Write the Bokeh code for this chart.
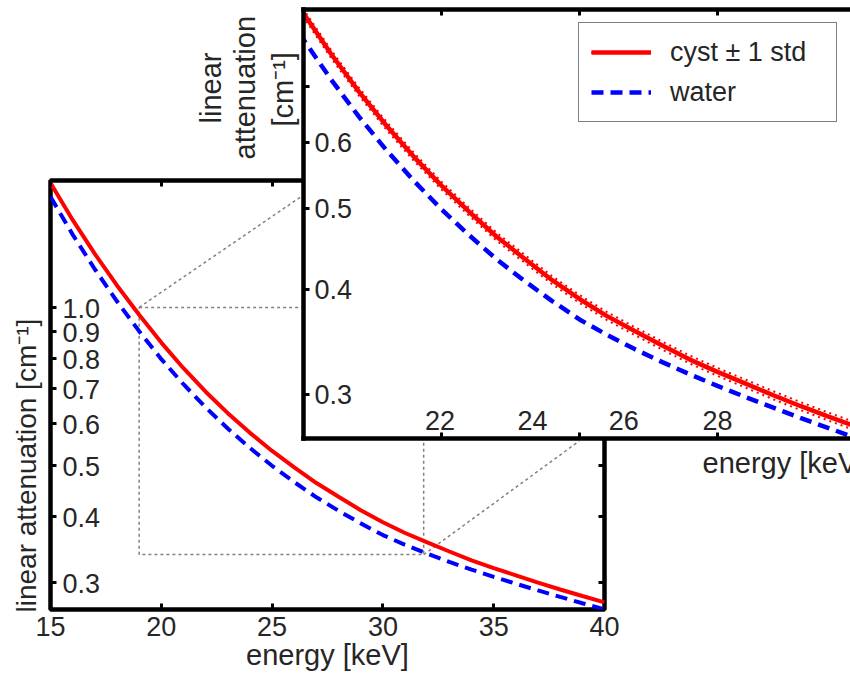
from bokeh.plotting import figure
from bokeh.models import (Range1d, FixedTicker, LinearAxis, LogAxis, Title, Legend,
                          LegendItem, ColumnDataSource)
from bokeh.core.properties import value
from bokeh.embed import file_html
from bokeh.resources import INLINE

# ---------------- data ----------------
energy = [15, 16, 17, 18, 19, 20, 21, 22, 23, 24, 25, 26, 27,
          28, 29, 30, 31, 32, 33, 34, 35, 36, 37, 38, 39, 40]
water = [1.624, 1.376, 1.182, 1.027, 0.901, 0.797, 0.714, 0.645, 0.588, 0.540,
         0.4994, 0.465, 0.435, 0.410, 0.388, 0.3686, 0.3532, 0.3397, 0.3277,
         0.3168, 0.3069, 0.2978, 0.2892, 0.2811, 0.2734, 0.2660]
cyst = [1.725, 1.467, 1.264, 1.101, 0.968, 0.857, 0.766, 0.691, 0.629, 0.577,
        0.533, 0.496, 0.463, 0.436, 0.411, 0.390, 0.372, 0.357, 0.343, 0.330,
        0.319, 0.309, 0.2993, 0.2904, 0.2822, 0.2745]
cyst_std = [0.019, 0.016, 0.014, 0.012, 0.0105, 0.0094, 0.0084, 0.0076, 0.0069,
            0.0063, 0.0058, 0.0054, 0.0051, 0.0048, 0.0045, 0.0043, 0.0041,
            0.0039, 0.0038, 0.0036, 0.0035, 0.0034, 0.0033, 0.0032, 0.0031, 0.0030]

main_xlim = (15, 40)
main_ylim = (0.266, 1.744)
main_xticks = [15, 20, 25, 30, 35, 40]
main_yticks = [0.3, 0.4, 0.5, 0.6, 0.7, 0.8, 0.9, 1.0]
main_ytick_labels = ["0.3", "0.4", "0.5", "0.6", "0.7", "0.8", "0.9", "1.0"]

inset_xlim = (20, 39.82)
inset_ylim = (0.2655, 0.866)
inset_xticks = [25, 30, 35]
inset_yticks = [0.3, 0.4, 0.5, 0.6, 0.7]
inset_ylabel_ticks = [0.3, 0.4, 0.5, 0.6]
inset_ylabel_text = ["0.3", "0.4", "0.5", "0.6"]
inset_xlabel_pos = [24.95, 28.3, 31.6, 35.0]
inset_xlabel_text = ["22", "24", "26", "28"]

zoom_box_x = [19, 31.84, 31.84, 19, 19]
zoom_box_y = [1.0, 1.0, 0.3384, 0.3384, 1.0]
connector1_x = [19, 26.3]
connector1_y = [1.0, 1.624]
connector2_x = [31.84, 38.86]
connector2_y = [0.3384, 0.5566]

FONT = "Liberation Sans"
TXT = "#262626"
RED = "#ff0000"
BLUE = "#0000ff"
GRAY = "#808080"
TICK_FS = "27px"
LABEL_FS = "29px"

src = ColumnDataSource(dict(
    energy=energy, water=water, cyst=cyst,
    upper=[c + s for c, s in zip(cyst, cyst_std)],
    lower=[c - s for c, s in zip(cyst, cyst_std)],
))


def tick_axis(cls, ticks, show_labels=False, line=False):
    ax = cls(ticker=FixedTicker(ticks=ticks, minor_ticks=[]))
    if line:
        ax.axis_line_color = "black"
        ax.axis_line_width = 4.5
        ax.axis_line_cap = "square"
    else:
        ax.axis_line_color = None
    ax.major_tick_in = 6
    ax.major_tick_out = 0
    ax.major_tick_line_width = 3
    ax.major_tick_line_color = "black"
    ax.minor_tick_line_color = None
    if show_labels:
        ax.major_label_text_font = FONT
        ax.major_label_text_font_size = TICK_FS
        ax.major_label_text_color = TXT
        ax.major_label_standoff = 7
    else:
        ax.major_label_text_color = None
        ax.major_label_text_font_size = "1px"
        ax.major_label_standoff = 0
    return ax


def label_title(text, align, offset, standoff, size=LABEL_FS):
    return Title(text=text, align=align, offset=offset, standoff=standoff,
                 text_font=FONT, text_font_size=size,
                 text_font_style="normal", text_color=TXT)


# ---------------- main plot ----------------
main = figure(frame_width=554, frame_height=429,
              min_border_left=50, min_border_right=16, min_border_top=180, min_border_bottom=58,
              x_range=Range1d(*main_xlim), y_range=Range1d(*main_ylim),
              y_axis_type="log", x_axis_location=None, y_axis_location=None,
              toolbar_location=None, output_backend="svg")
main.xgrid.visible = False
main.ygrid.visible = False
main.outline_line_color = "black"
main.outline_line_width = 4.5
main.background_fill_color = "white"
main.border_fill_color = "white"

xb = tick_axis(LinearAxis, main_xticks, show_labels=True)
xb.axis_label = "energy [keV]"
xb.axis_label_text_font = FONT
xb.axis_label_text_font_size = LABEL_FS
xb.axis_label_text_font_style = "normal"
xb.axis_label_text_color = TXT
xb.axis_label_standoff = 0
main.add_layout(xb, "below")
main.add_layout(tick_axis(LinearAxis, main_xticks), "above")
main.add_layout(tick_axis(LogAxis, main_yticks), "left")
main.add_layout(tick_axis(LogAxis, main_yticks), "right")

main.add_layout(label_title("linear attenuation [cm\u207b\u00b9]", "left", -3, 17, "28px"), "left")

main.line(zoom_box_x, zoom_box_y, line_color=GRAY, line_width=1.5, line_dash="3 3")
main.line(connector1_x, connector1_y, line_color=GRAY, line_width=1.5, line_dash="3 3")
main.line(connector2_x, connector2_y, line_color=GRAY, line_width=1.5, line_dash="3 3")

main.line("energy", "cyst", source=src, line_color=RED, line_width=4)
main.line("energy", "water", source=src, line_color=BLUE, line_width=4, line_dash="12 7")

main.text(x=[main_xlim[0]] * len(main_yticks), y=main_yticks, text=main_ytick_labels,
          x_offset=12, y_offset=1, text_align="left", text_baseline="middle",
          text_font=value(FONT), text_font_size=TICK_FS, text_color=TXT)

# ---------------- inset ----------------
inset = figure(frame_width=547, frame_height=429,
               min_border_left=113, min_border_right=0, min_border_top=2, min_border_bottom=46,
               x_range=Range1d(*inset_xlim), y_range=Range1d(*inset_ylim),
               y_axis_type="log", x_axis_location=None, y_axis_location=None,
               toolbar_location=None, output_backend="svg")
inset.xgrid.visible = False
inset.ygrid.visible = False
inset.border_fill_color = None
inset.background_fill_color = "white"
inset.outline_line_color = None

inset.add_layout(tick_axis(LinearAxis, inset_xticks, line=True), "below")
inset.add_layout(tick_axis(LinearAxis, inset_xticks, line=True), "above")
inset.add_layout(tick_axis(LogAxis, inset_yticks, line=True), "left")

# three-line y label (closest line to the frame first)
inset.add_layout(label_title("[cm\u207b\u00b9]", "left", 312, 9), "left")
inset.add_layout(label_title("attenuation", "left", 279, 0), "left")
inset.add_layout(label_title("linear", "left", 315, 0), "left")
inset.add_layout(label_title("energy [keV]", "left", 399, 13), "below")

r_c = inset.line("energy", "cyst", source=src, line_color=RED, line_width=4.5)
r_up = inset.line("energy", "upper", source=src, line_color=RED, line_width=2, line_dash="2 4")
r_lo = inset.line("energy", "lower", source=src, line_color=RED, line_width=2, line_dash="2 4")
r_w = inset.line("energy", "water", source=src, line_color=BLUE, line_width=4.5, line_dash="12 7")

inset.text(x=[inset_xlim[0]] * len(inset_ylabel_ticks), y=inset_ylabel_ticks, text=inset_ylabel_text,
           x_offset=11, text_align="left", text_baseline="middle",
           text_font=value(FONT), text_font_size=TICK_FS, text_color=TXT)
inset.text(x=inset_xlabel_pos, y=[inset_ylim[0]] * len(inset_xlabel_pos), text=inset_xlabel_text,
           y_offset=-18, text_align="center", text_baseline="middle",
           text_font=value(FONT), text_font_size=TICK_FS, text_color=TXT)

legend = Legend(items=[LegendItem(label="cyst \u00b1 1 std", renderers=[r_c, r_up, r_lo]),
                       LegendItem(label="water", renderers=[r_w])],
                location="top_right", margin=13, padding=12, spacing=6,
                glyph_width=60, glyph_height=34, label_height=34, label_width=154,
                label_standoff=19,
                label_text_font=FONT, label_text_font_size="27px", label_text_color=TXT,
                border_line_color="black", border_line_width=1.5,
                background_fill_color="white", background_fill_alpha=1.0)
inset.add_layout(legend)

main.styles = {"height": "674px", "overflow": "hidden"}
inset.styles = {"position": "absolute", "left": "190px", "top": "7px"}

open("out.html", "w").write(file_html([main, inset], INLINE))
